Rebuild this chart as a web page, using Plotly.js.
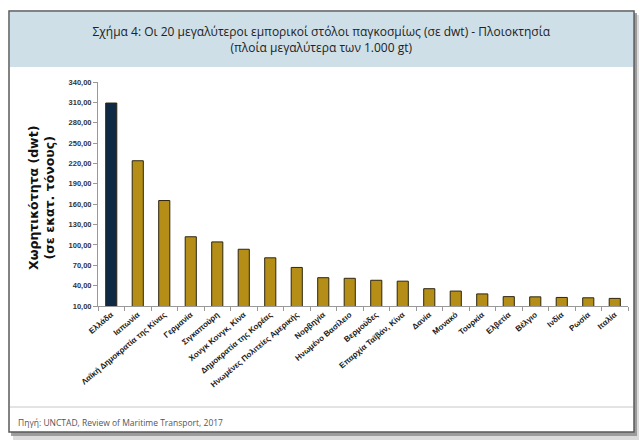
<!DOCTYPE html>
<html>
<head>
<meta charset="utf-8">
<script src="https://cdn.plot.ly/plotly-3.0.1.min.js"></script>
<style>html,body{margin:0;padding:0;background:#fff;}#chart{width:640px;height:442px;}</style>
</head>
<body>
<div id="chart"></div>
<script>
// ---- data ----
var countries = ["Ελλάδα", "Ιαπωνία", "Λαϊκή Δημοκρατία της Κίνας", "Γερμανία", "Σιγκαπούρη",
  "Χονγκ Κονγκ, Κίνα", "Δημοκρατία της Κορέας", "Ηνωμένες Πολιτείες Αμερικής", "Νορβηγία",
  "Ηνωμένο Βασίλειο", "Βερμούδες", "Επαρχία Ταϊβάν, Κίνα", "Δανία", "Μονακό", "Τουρκία",
  "Ελβετία", "Βέλγιο", "Ινδία", "Ρωσία", "Ιταλία"];
var dwt = [309.0, 224.0, 165.4, 112.0, 104.4, 93.6, 81.0, 66.8, 51.7, 50.8, 47.9,
  46.6, 35.5, 32.0, 27.8, 23.8, 23.5, 22.6, 22.1, 21.2];
var yTickVals = [10, 40, 70, 100, 130, 160, 190, 220, 250, 280, 310, 340];
var yTickText = ["10,00", "40,00", "70,00", "100,00", "130,00", "160,00", "190,00",
  "220,00", "250,00", "280,00", "310,00", "340,00"];
var titleText = "Σχήμα 4: Οι 20 μεγαλύτεροι εμπορικοί στόλοι παγκοσμίως (σε dwt) - Πλοιοκτησία<br>(πλοία μεγαλύτερα των 1.000 gt)";
var yTitleText = "<b>Χωρητικότητα (dwt)<br>(σε εκατ. τόνους)</b>";
var sourceText = "Πηγή: UNCTAD, Review of Maritime Transport, 2017";

// ---- layout geometry (pixels) ----
var W = 640, H = 442;
var L = 98, R = 628, T = 82, B = 306;
function px(x) { return (x - L) / (R - L); }
function py(y) { return (B - y) / (B - T); }

var barColors = countries.map(function (c, i) { return i === 0 ? "#0e2a45" : "#b48e17"; });

var trace = {
  type: "bar",
  x: countries,
  y: dwt,
  width: 0.42,
  marker: { color: barColors, line: { color: "#2e2610", width: 1 } },
  hoverinfo: "x+y"
};

var layout = {
  width: W, height: H,
  margin: { l: L, r: W - R, t: T, b: H - B, pad: 0 },
  paper_bgcolor: "rgba(0,0,0,0)",
  plot_bgcolor: "rgba(0,0,0,0)",
  showlegend: false,
  title: {
    text: titleText,
    x: 0.502, xref: "container", xanchor: "center",
    y: 1 - 36 / H, yref: "container", yanchor: "middle",
    font: { family: "Open Sans", size: 12, color: "#222" }
  },
  xaxis: {
    type: "category",
    tickangle: -40,
    tickson: "boundaries",
    ticks: "outside", ticklen: 4, tickcolor: "#999",
    showline: true, linecolor: "#999", linewidth: 1,
    showgrid: false,
    tickfont: { family: "Liberation Sans", size: 8, color: "#1a1a1a", weight: "bold" },
    fixedrange: true
  },
  yaxis: {
    range: [10, 340],
    tickvals: yTickVals, ticktext: yTickText,
    ticks: "outside", ticklen: 4, tickcolor: "#999",
    showline: true, linecolor: "#999", linewidth: 1,
    showgrid: false, zeroline: false,
    tickfont: { family: "Liberation Sans", size: 7.5, color: "#333", weight: "bold" },
    fixedrange: true
  },
  shapes: [
    { type: "rect", xref: "paper", yref: "paper", layer: "below",
      x0: px(13), x1: px(639), y0: py(15), y1: py(440),
      fillcolor: "#c4c4c4", line: { width: 0 }, opacity: 0.6 },
    { type: "rect", xref: "paper", yref: "paper", layer: "below",
      x0: px(11), x1: px(637), y0: py(13), y1: py(436),
      fillcolor: "#8c8c8c", line: { width: 0 }, opacity: 0.8 },
    { type: "rect", xref: "paper", yref: "paper", layer: "below",
      x0: px(9), x1: px(634), y0: py(11), y1: py(432),
      fillcolor: "#ffffff", line: { color: "#5a5a5a", width: 1.5 } },
    { type: "rect", xref: "paper", yref: "paper", layer: "below",
      x0: px(10), x1: px(633), y0: py(12), y1: py(67),
      fillcolor: "#cfdfe8", line: { width: 0 } },
    { type: "line", xref: "paper", yref: "paper", layer: "below",
      x0: px(10), x1: px(633), y0: py(407), y1: py(407),
      line: { color: "#c8c8c8", width: 1 } }
  ],
  annotations: [
    { text: yTitleText, xref: "paper", yref: "paper",
      x: px(41), y: py(198), xanchor: "center", yanchor: "middle",
      textangle: -90, showarrow: false,
      font: { family: "DejaVu Sans", size: 12.5, color: "#111" } },
    { text: sourceText, xref: "paper", yref: "paper",
      x: px(16), y: py(422), xanchor: "left", yanchor: "middle",
      showarrow: false,
      font: { family: "Open Sans", size: 8.5, color: "#555" } }
  ]
};

Plotly.newPlot("chart", [trace], layout, { displayModeBar: false, staticPlot: true });
</script>
</body>
</html>
